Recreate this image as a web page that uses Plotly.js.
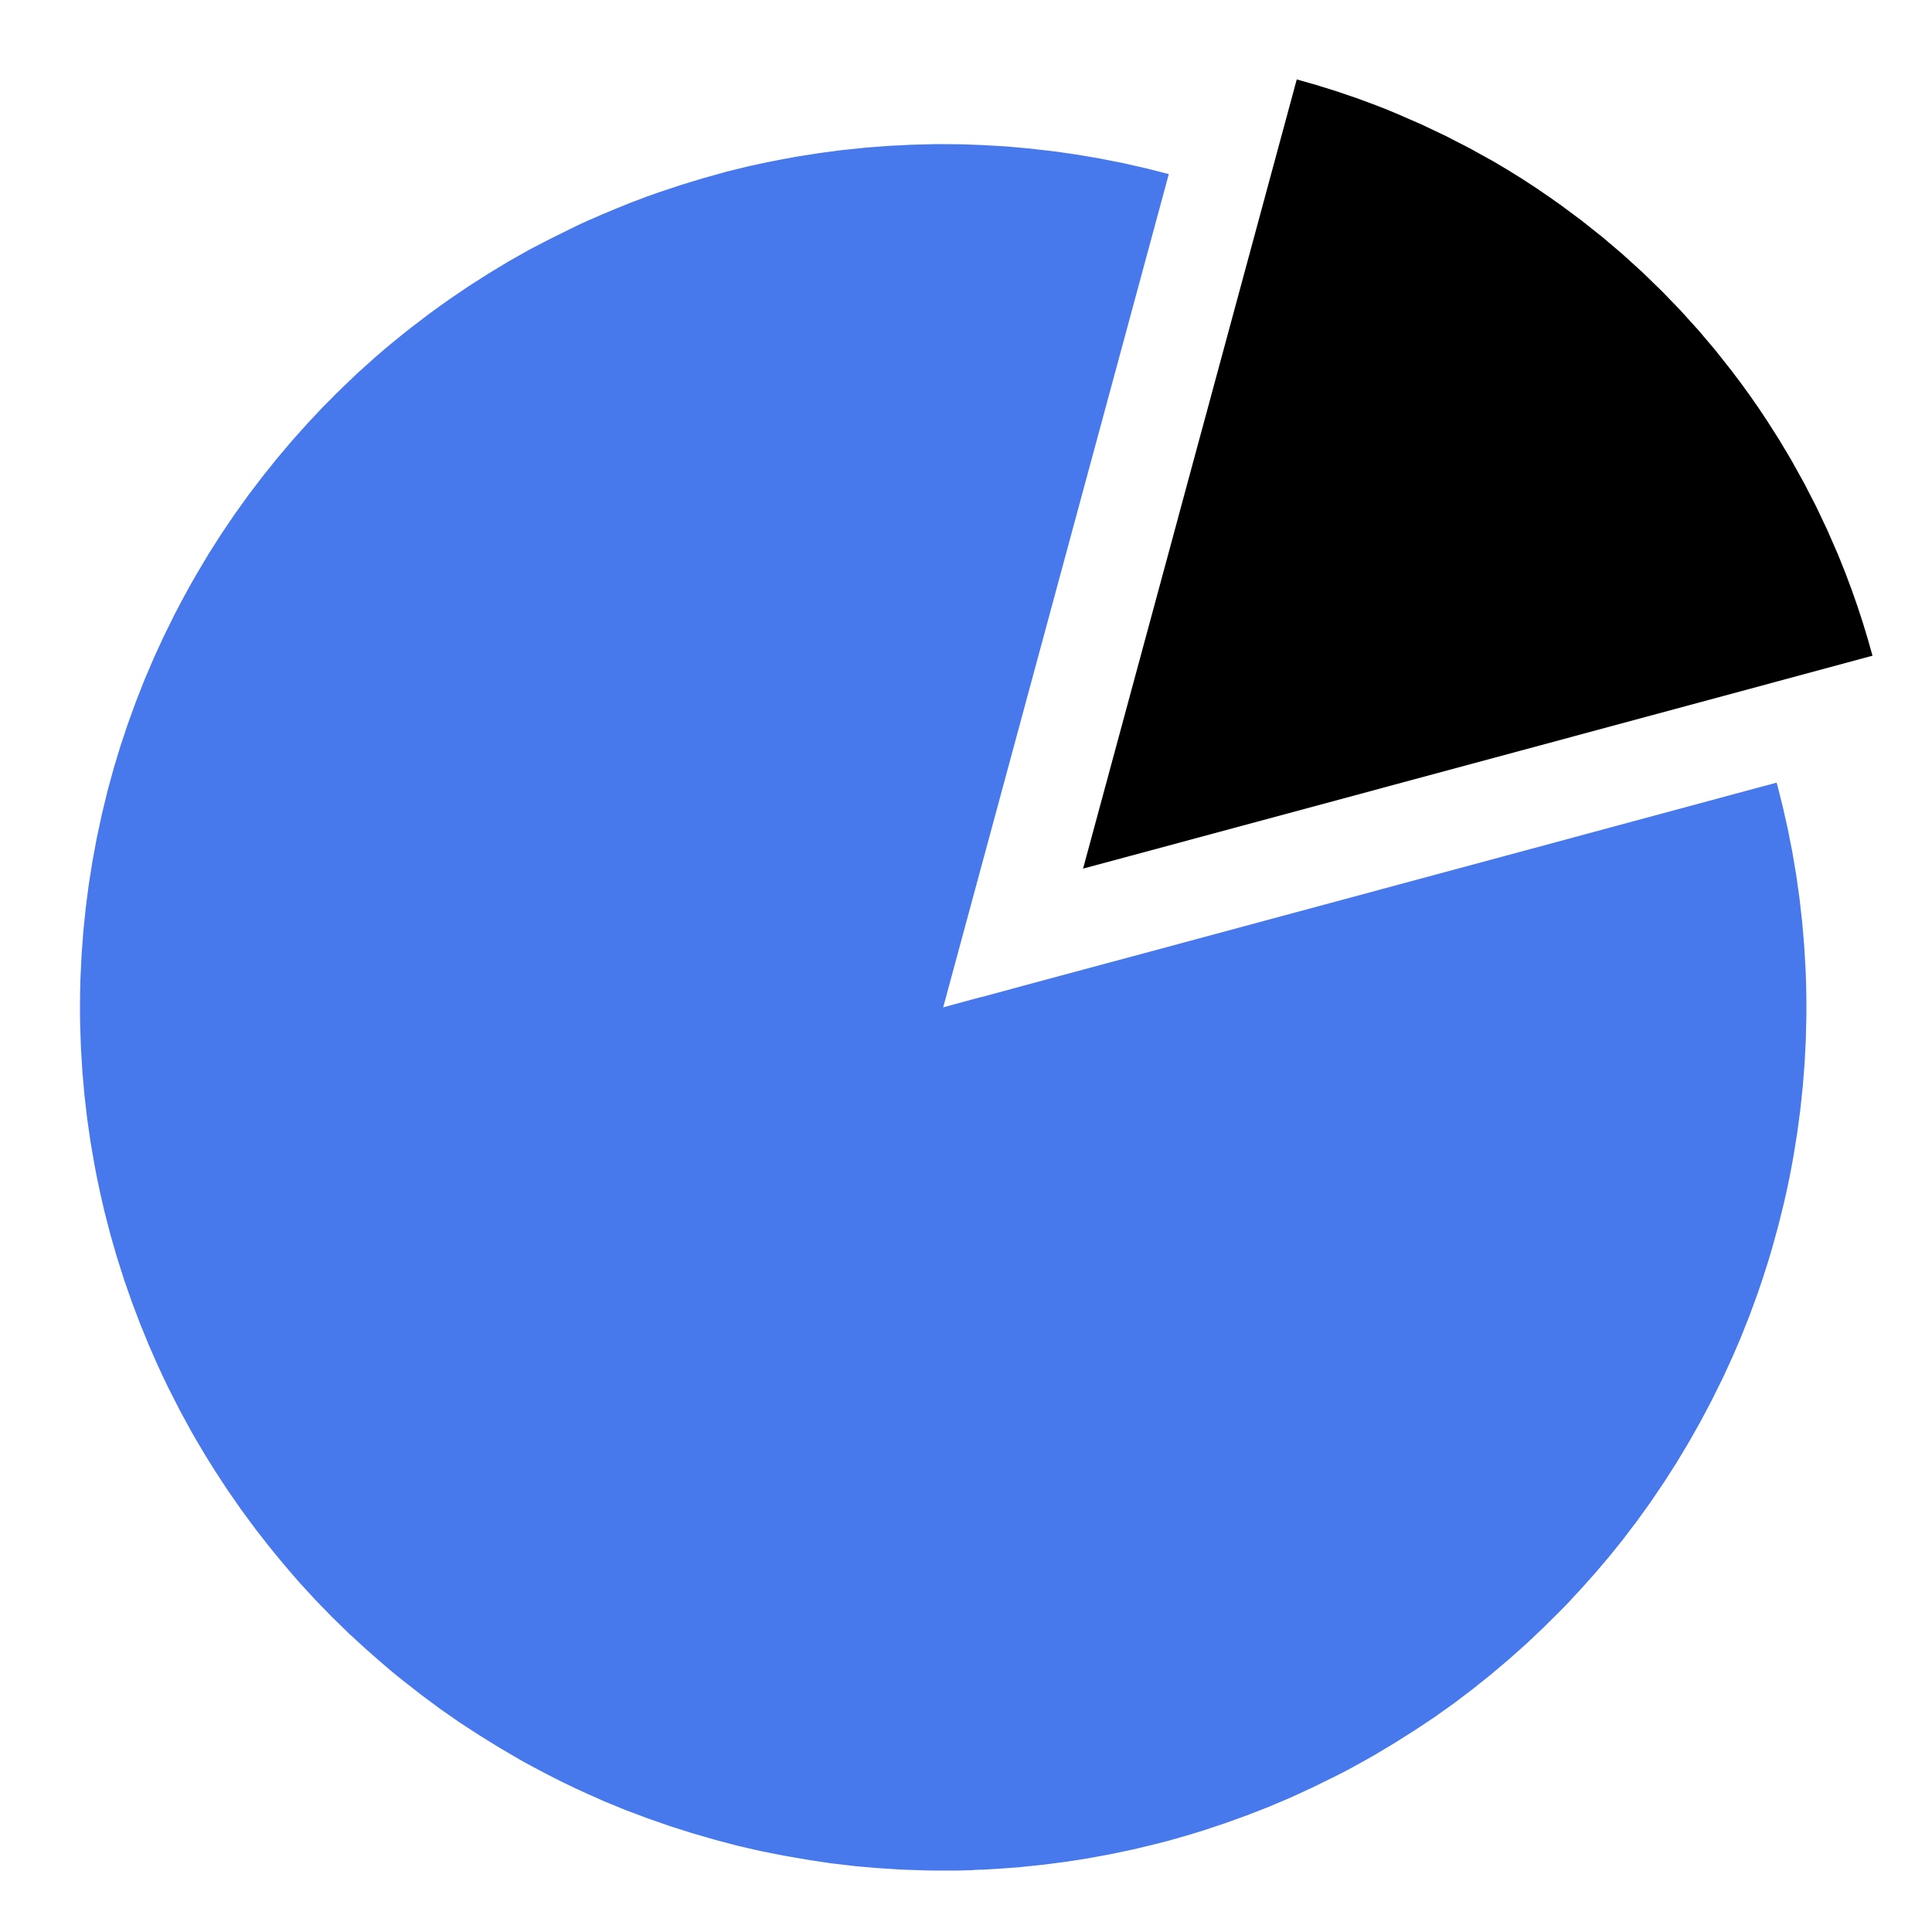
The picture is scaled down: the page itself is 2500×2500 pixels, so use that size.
<!DOCTYPE html>
<html>
<head>
<meta charset="utf-8">
<script src="https://cdn.plot.ly/plotly-3.0.1.min.js"></script>
<style>
  html, body { margin: 0; padding: 0; background: #ffffff; overflow: hidden; }
  #chart { width: 2500px; height: 2500px; }
</style>
</head>
<body>
<div id="chart"></div>
<script>
// Data (shares of the whole)
const categories = ['Small share', 'Large share'];
const shareValues = [16.6, 83.4];
const smallColors = ['#000000', 'rgba(0,0,0,0)'];
const largeColors = ['rgba(0,0,0,0)', '#4879ec'];

const common = {
  type: 'pie',
  labels: categories,
  values: shareValues,
  sort: false,
  direction: 'clockwise',
  rotation: 15.15,
  textinfo: 'none',
  hoverinfo: 'label+percent',
  showlegend: false
};

// large share, centred in the picture
const largeTrace = Object.assign({}, common, {
  marker: { colors: largeColors, line: { width: 0 } },
  domain: { x: [0.0414, 0.9350], y: [0.0318, 0.9254] }
});

// small share, drawn detached up and to the right
const smallTrace = Object.assign({}, common, {
  marker: { colors: smallColors, line: { width: 0 } },
  domain: { x: [0.1374, 0.9838], y: [0.1272, 0.9736] }
});

const layout = {
  width: 2500,
  height: 2500,
  margin: { l: 0, r: 0, t: 0, b: 0, pad: 0 },
  showlegend: false,
  paper_bgcolor: '#ffffff',
  plot_bgcolor: '#ffffff'
};

Plotly.newPlot('chart', [largeTrace, smallTrace], layout, { staticPlot: true, displayModeBar: false });
</script>
</body>
</html>
